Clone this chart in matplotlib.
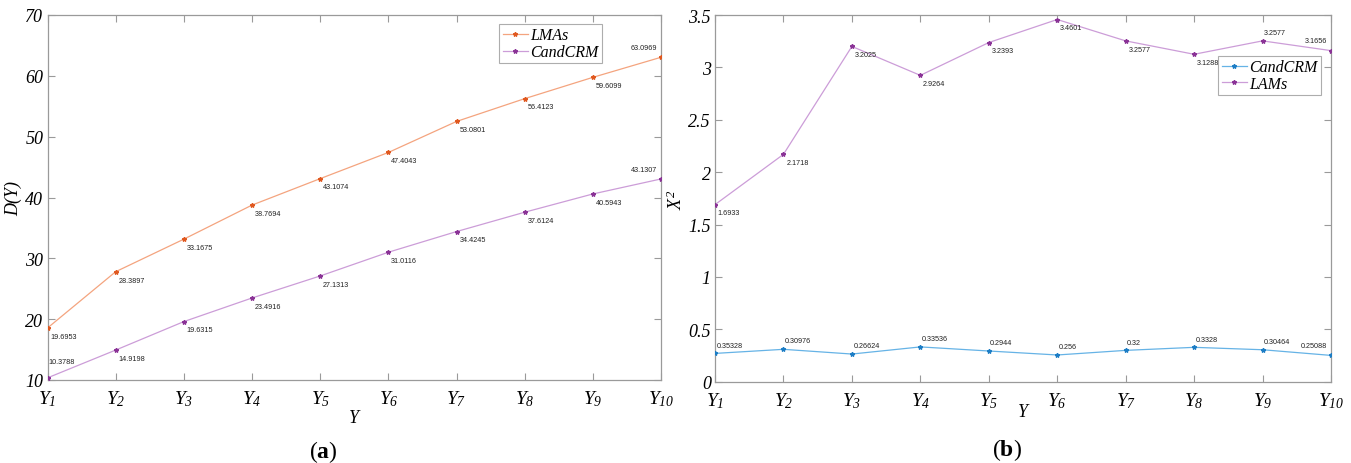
import matplotlib
matplotlib.use("Agg")
import matplotlib.pyplot as plt
import numpy as np
from matplotlib.lines import Line2D

plt.rcParams['mathtext.fontset'] = 'custom'
plt.rcParams['mathtext.rm'] = 'Liberation Serif:italic'
plt.rcParams['mathtext.it'] = 'Liberation Serif:italic'
plt.rcParams['mathtext.bf'] = 'Liberation Serif:bold'

# ---------------- data ----------------
categories = [f"Y{i}" for i in range(1, 11)]
tick_labels = [r'$Y_{%d}$' % i for i in range(1, 11)]

# panel (a)
lmas_a = [18.55, 27.80, 33.15, 38.75, 43.10, 47.40, 52.50, 56.25, 59.75, 63.05]
lmas_a_labels = ["19.6953", "28.3897", "33.1675", "38.7694", "43.1074", "47.4043",
                 "53.0801", "56.4123", "59.6099", "63.0969"]
cand_a = [10.35, 14.92, 19.60, 23.48, 27.10, 31.00, 34.40, 37.58, 40.58, 43.05]
cand_a_labels = ["10.3788", "14.9198", "19.6315", "23.4916", "27.1313", "31.0116",
                 "34.4245", "37.6124", "40.5943", "43.1307"]

# panel (b)
cand_b = [0.270, 0.309, 0.264, 0.332, 0.293, 0.255, 0.299, 0.328, 0.305, 0.251]
cand_b_labels = ["0.35328", "0.30976", "0.26624", "0.33536", "0.2944", "0.256",
                 "0.32", "0.3328", "0.30464", "0.25088"]
lams_b = [1.690, 2.170, 3.200, 2.924, 3.237, 3.457, 3.253, 3.125, 3.253, 3.160]
lams_b_labels = ["1.6933", "2.1718", "3.2025", "2.9264", "3.2393", "3.4601",
                 "3.2577", "3.1288", "3.2577", "3.1656"]

# ---------------- style ----------------
orange_m, orange_l = '#E0581F', '#F4A47F'
purple_m, purple_l = '#8A3296', '#CC9DD8'
blue_m, blue_l = '#1C7DC5', '#66B3E6'
spine_c = '#9a9a9a'
serif = 'Liberation Serif'

fig = plt.figure(figsize=(13.51, 4.64), dpi=100)
axA = fig.add_axes([47.5/1351, 1-381/464, (661-47.5)/1351, (381-16)/464])
axB = fig.add_axes([715/1351, 1-382.7/464, (1331-715)/1351, (382.7-16)/464])

x = np.arange(1, 11)


def style_axes(ax, ylim, yticks, yticklabels):
    ax.set_xlim(1, 10)
    ax.set_ylim(*ylim)
    ax.set_xticks(x)
    ax.set_xticklabels(tick_labels, fontsize=14)
    ax.set_yticks(yticks)
    ax.set_yticklabels(yticklabels, fontsize=13, fontfamily=serif, fontstyle='italic')
    ax.tick_params(direction='in', length=5, width=0.8, color=spine_c,
                   top=True, right=True)
    ax.tick_params(axis='x', pad=6)
    ax.tick_params(axis='y', pad=3)
    for s in ax.spines.values():
        s.set_color(spine_c)
        s.set_linewidth(0.9)


def put_labels(ax, xs, ys, labels, modes):
    for xi, yi, lab, m in zip(xs, ys, labels, modes):
        if m == 'below':
            off, ha, va = (2, -6), 'left', 'center'
        elif m == 'above':
            off, ha, va = (1, 6), 'left', 'center'
        elif m == 'aboveleft':
            off, ha, va = (-3, 7), 'right', 'center'
        elif m == 'abovehigh':
            off, ha, va = (1, 12), 'left', 'center'
        ax.annotate(lab, (xi, yi), xytext=off, textcoords='offset points',
                    ha=ha, va=va, fontsize=5.2, fontfamily='Liberation Sans',
                    color='#222222')


def series(ax, ys, lc, mc):
    ax.plot(x, ys, color=lc, lw=0.9, zorder=2)
    ax.plot(x, ys, ls='none', marker='*', ms=3.2, color=mc, zorder=3)
    return Line2D([], [], color=lc, lw=0.9, marker='*', ms=3.2, mfc=mc, mec=mc)


def legend(ax, handles, names, anchor):
    leg = ax.legend(handles, names, loc='upper right', bbox_to_anchor=anchor,
                    prop={'family': serif, 'style': 'italic', 'size': 11.5},
                    frameon=True, fancybox=False, handlelength=1.6, handletextpad=0.15,
                    borderpad=0.2, labelspacing=0.05, borderaxespad=0)
    leg.get_frame().set_edgecolor('#999999')
    leg.get_frame().set_linewidth(0.8)


# panel (a)
hA = [series(axA, lmas_a, orange_l, orange_m), series(axA, cand_a, purple_l, purple_m)]
style_axes(axA, (10, 70), np.arange(10, 71, 10), [str(v) for v in range(10, 71, 10)])
put_labels(axA, x, lmas_a, lmas_a_labels, ['below'] * 9 + ['aboveleft'])
put_labels(axA, x, cand_a, cand_a_labels, ['abovehigh'] + ['below'] * 8 + ['aboveleft'])
legend(axA, hA, ['LMAs', 'CandCRM'], (0.904, 0.975))
axA.set_ylabel('D(Y)', fontfamily=serif, fontstyle='italic', fontsize=13, labelpad=2)
axA.set_xlabel('Y', fontfamily=serif, fontstyle='italic', fontsize=13, labelpad=1)

# panel (b)
hB = [series(axB, cand_b, blue_l, blue_m), series(axB, lams_b, purple_l, purple_m)]
bt = np.arange(0, 3.51, 0.5)
style_axes(axB, (0, 3.5), bt, ['0', '0.5', '1', '1.5', '2', '2.5', '3', '3.5'])
put_labels(axB, x, cand_b, cand_b_labels, ['above'] * 9 + ['aboveleft'])
put_labels(axB, x, lams_b, lams_b_labels, ['below'] * 8 + ['above', 'aboveleft'])
legend(axB, hB, ['CandCRM', 'LAMs'], (0.984, 0.888))
axB.set_ylabel(r'$X^{2}$', fontsize=13, labelpad=2)
axB.set_xlabel('Y', fontfamily=serif, fontstyle='italic', fontsize=13, labelpad=-5)

fig.text(323/1351, 1-452/464, r'($\mathbf{a}$)', ha='center', va='center', fontsize=17, fontfamily=serif)
fig.text(1007/1351, 1-450/464, r'($\mathbf{b}$)', ha='center', va='center', fontsize=17, fontfamily=serif)

fig.savefig('out.png', dpi=100)
